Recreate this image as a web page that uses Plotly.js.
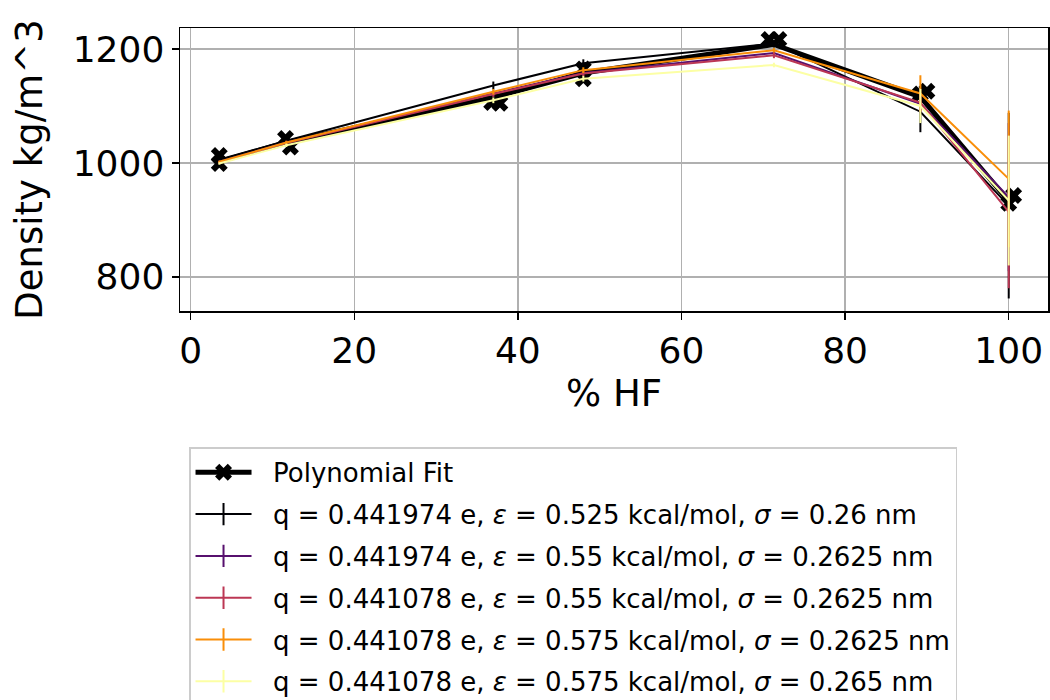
<!DOCTYPE html>
<html>
<head>
<meta charset="utf-8">
<script src="https://cdn.plot.ly/plotly-3.0.1.min.js"></script>
<style>
html, body { margin: 0; padding: 0; overflow: hidden; background: #fff; }
#chart { width: 1050px; height: 740px; }
</style>
</head>
<body>
<div id="chart"></div>
<script>
// ---- data ----
var hfPercent = [3.5, 11.7, 37, 48, 71.3, 89.2, 100];

var fitLine = [1003, 1036, 1115, 1158, 1208, 1116, 933];
var fitMarkX1 = [3.5, 11.6, 36.8, 48, 70.7, 89.2, 100];
var fitMarkY1 = [1013, 1043, 1106, 1165, 1217, 1121, 929];
var fitMarkX2 = [3.5, 12.2, 37.8, 48, 71.9, 90.0, 100.6];
var fitMarkY2 = [999, 1028, 1105, 1148, 1217, 1126, 943];

var fitName = "Polynomial Fit";
var seriesNames = [
  "q = 0.441974 e, <i>ε</i> = 0.525 kcal/mol, <i>σ</i> = 0.26 nm",
  "q = 0.441974 e, <i>ε</i> = 0.55 kcal/mol, <i>σ</i> = 0.2625 nm",
  "q = 0.441078 e, <i>ε</i> = 0.55 kcal/mol, <i>σ</i> = 0.2625 nm",
  "q = 0.441078 e, <i>ε</i> = 0.575 kcal/mol, <i>σ</i> = 0.2625 nm",
  "q = 0.441078 e, <i>ε</i> = 0.575 kcal/mol, <i>σ</i> = 0.265 nm"
];
var seriesColors = ["#000004", "#57106e", "#bc3754", "#f98e09", "#fcffa4"];

var s1 = [1005, 1039, 1136, 1175, 1210, 1090, 925];
var s1Err = [2, 3, 7, 7, 4, 36, 163];
var s2 = [1002, 1036, 1122, 1158, 1193, 1104, 940];
var s2Err = [2, 3, 5, 5, 4, 15, 130];
var s3 = [1001, 1035, 1121, 1157, 1189, 1106, 914];
var s3Err = [2, 3, 5, 5, 5, 15, 134];
var s4 = [1002, 1036, 1125, 1163, 1198, 1122, 972];
var s4Err = [2, 3, 5, 5, 4, 32, 120];
var s5 = [999, 1031, 1110, 1148, 1172, 1100, 934];
var s5Err = [2, 3, 5, 5, 4, 30, 114];

var seriesVals = [s1, s2, s3, s4, s5];
var seriesErrs = [s1Err, s2Err, s3Err, s4Err, s5Err];

var xTicks = [0, 20, 40, 60, 80, 100];
var yTicks = [800, 1000, 1200];

// ---- traces ----
var pad = '\u00a0\u00a0';
var traces = [];
traces.push({
  x: hfPercent, y: fitLine, mode: 'lines', type: 'scatter',
  line: {color: '#000000', width: 5}, showlegend: false, hoverinfo: 'skip'
});
traces.push({
  x: fitMarkX1, y: fitMarkY1, mode: 'markers', type: 'scatter',
  marker: {symbol: 'x', size: 15, color: '#000000'}, showlegend: false
});
traces.push({
  x: fitMarkX2, y: fitMarkY2, mode: 'markers', type: 'scatter',
  marker: {symbol: 'x', size: 15, color: '#000000'}, showlegend: false
});
for (var i = 0; i < seriesVals.length; i++) {
  traces.push({
    x: hfPercent, y: seriesVals[i], mode: 'lines', type: 'scatter',
    line: {color: seriesColors[i], width: 2},
    error_y: {type: 'data', array: seriesErrs[i], visible: true,
              color: seriesColors[i], thickness: 2, width: 0},
    showlegend: false
  });
}
// legend entries
traces.push({
  x: [null], y: [null], mode: 'lines+markers', type: 'scatter',
  name: pad + fitName, legendgroup: 'g0',
  line: {color: '#000000', width: 5},
  marker: {symbol: 'x', size: 15, color: '#000000'}
});
for (var j = 0; j < seriesNames.length; j++) {
  traces.push({
    x: [null], y: [null], mode: 'lines+markers', type: 'scatter',
    name: pad + seriesNames[j], legendgroup: 'g' + (j + 1),
    line: {color: seriesColors[j], width: 2},
    marker: {symbol: 'line-ns-open', size: 16, color: seriesColors[j],
             line: {width: 2, color: seriesColors[j]}}
  });
}

var axisFont = {family: 'DejaVu Sans', size: 36, color: '#000'};

var layout = {
  width: 1050, height: 740,
  margin: {l: 180, r: 2, t: 28, b: 429},
  paper_bgcolor: '#ffffff', plot_bgcolor: '#ffffff',
  font: {family: 'DejaVu Sans', color: '#000'},
  xaxis: {
    range: [-1.3, 104.8], tickvals: xTicks, ticktext: xTicks.map(String),
    showgrid: true, gridcolor: '#b0b0b0', gridwidth: 1.5,
    showline: true, linecolor: '#000', linewidth: 1.5, mirror: true,
    ticks: 'outside', ticklen: 7, tickwidth: 1.5, tickcolor: '#000',
    tickfont: axisFont, zeroline: false,
    title: {text: '% HF', font: {family: 'DejaVu Sans', size: 37, color: '#000'}, standoff: 10}
  },
  yaxis: {
    range: [740, 1237], tickvals: yTicks, ticktext: yTicks.map(String),
    showgrid: true, gridcolor: '#b0b0b0', gridwidth: 1.5,
    showline: true, linecolor: '#000', linewidth: 1.5, mirror: true,
    ticks: 'outside', ticklen: 7, tickwidth: 1.5, tickcolor: '#000',
    tickfont: axisFont, zeroline: false,
    title: {text: 'Density kg/m^3', font: {family: 'DejaVu Sans', size: 37, color: '#000'}, standoff: 18}
  },
  showlegend: true,
  legend: {
    x: 0.0104, xanchor: 'left', y: -0.482, yanchor: 'top',
    bgcolor: '#ffffff', bordercolor: '#cccccc', borderwidth: 1.5,
    font: {family: 'DejaVu Sans', size: 26, color: '#000'},
    traceorder: 'grouped', tracegroupgap: 5, itemwidth: 56
  }
};

Plotly.newPlot('chart', traces, layout, {displayModeBar: false, staticPlot: true});
</script>
</body>
</html>
